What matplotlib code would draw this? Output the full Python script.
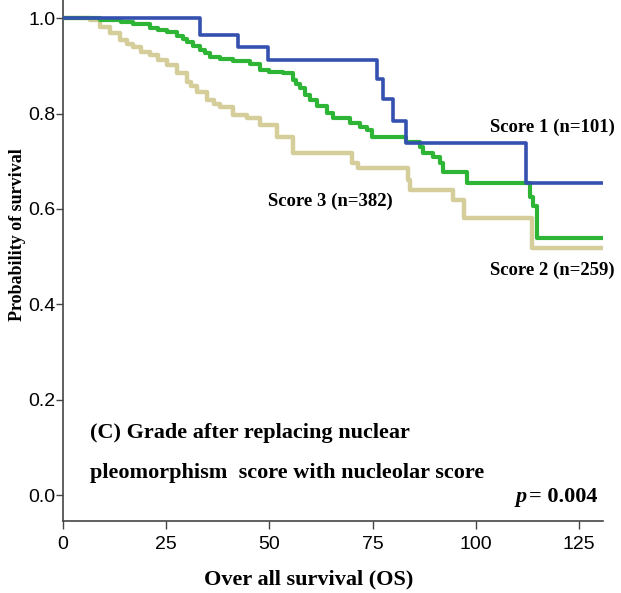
import matplotlib.pyplot as plt

# Kaplan-Meier step data (months, survival probability)
score1_t = [0, 33.2, 42.4, 49.7, 76.1, 77.5, 79.9, 83.1, 112.2, 130.8]
score1_s = [1.0, 0.964, 0.940, 0.913, 0.873, 0.830, 0.784, 0.738, 0.654, 0.654]

score2_t = [0, 9, 14, 17, 21, 23, 25.2, 27.6, 29, 30, 31.5, 33.2, 34.5, 35.6, 38,
            41.2, 45.3, 47.7, 50, 53.3, 55.7, 56.5, 57.4, 58.6, 59.8, 61.5, 64,
            65.4, 69.5, 72, 73.6, 74.9, 83.1, 86.5, 87.2, 89.6, 91.3, 92.1, 97.9,
            113.1, 113.8, 114.8, 130.8]
score2_s = [1.0, 0.996, 0.992, 0.988, 0.979, 0.975, 0.970, 0.963, 0.957, 0.950,
            0.942, 0.933, 0.926, 0.918, 0.915, 0.911, 0.904, 0.891, 0.888, 0.884,
            0.870, 0.862, 0.853, 0.838, 0.828, 0.815, 0.801, 0.790, 0.780, 0.772,
            0.765, 0.751, 0.740, 0.730, 0.717, 0.709, 0.696, 0.678, 0.654, 0.625,
            0.606, 0.539, 0.539]

score3_t = [0, 6.5, 9, 11.4, 13.8, 15.5, 17, 19, 21.1, 23, 25.2, 27.6, 30, 31,
            32.5, 34.9, 36.5, 38, 41.2, 44.6, 47.7, 51.8, 55.7, 70, 71.4, 83.5,
            84, 94.5, 97.2, 113.6, 130.8]
score3_s = [1.0, 0.996, 0.981, 0.969, 0.954, 0.945, 0.939, 0.930, 0.922, 0.912,
            0.901, 0.885, 0.866, 0.858, 0.845, 0.828, 0.820, 0.813, 0.797, 0.790,
            0.776, 0.751, 0.717, 0.696, 0.686, 0.661, 0.640, 0.618, 0.581, 0.518,
            0.518]

xticks = [0, 25, 50, 75, 100, 125]
yticks = [0.0, 0.2, 0.4, 0.6, 0.8, 1.0]

serif = ['Liberation Serif', 'DejaVu Serif']
sans = ['Liberation Sans', 'DejaVu Sans']

W, H = 621, 593


def fx(px):
    return px / W


def fy(py):
    return 1 - py / H


fig = plt.figure(figsize=(W / 100, H / 100), dpi=100)
ax = fig.add_axes([63 / W, 72 / H, 540 / W, 521 / H])

ax.step(score3_t, score3_s, where='post', color='#d5ce9b', lw=3.2, zorder=2)
ax.step(score2_t, score2_s, where='post', color='#2fb535', lw=3.0, zorder=3)
ax.step(score1_t, score1_s, where='post', color='#3551b0', lw=2.6, zorder=4)

ax.set_xlim(0, 130.8)
ax.set_ylim(-0.054, 1.038)
ax.set_xticks(xticks)
ax.set_xticklabels([str(t) for t in xticks], fontsize=14, family=sans)
ax.set_yticks(yticks)
ax.set_yticklabels(['%.1f' % t for t in yticks], fontsize=14, family=sans)
ax.tick_params(axis='both', direction='out', width=1, color='#444444')
ax.tick_params(axis='x', length=6, pad=5)
ax.tick_params(axis='y', length=5, pad=0.5)

for side in ['top', 'right']:
    ax.spines[side].set_visible(False)
for side in ['left', 'bottom']:
    ax.spines[side].set_color('#444444')
    ax.spines[side].set_linewidth(1.2)

# axis titles
fig.text(fx(309), fy(579), 'Over all survival (OS)', fontsize=16, fontweight='bold',
         family=serif, ha='center', va='center')
fig.text(fx(18), fy(235), 'Probability of survival', fontsize=13, fontweight='bold',
         family=serif, ha='center', va='center', rotation=90)

# group labels
fig.text(fx(615), fy(127), 'Score 1 (n=101)', fontsize=13.5, fontweight='bold',
         family=serif, ha='right', va='center')
fig.text(fx(393), fy(201), 'Score 3 (n=382)', fontsize=13.5, fontweight='bold',
         family=serif, ha='right', va='center')
fig.text(fx(615), fy(270), 'Score 2 (n=259)', fontsize=13.5, fontweight='bold',
         family=serif, ha='right', va='center')

fig.text(fx(90), fy(433), '(C) Grade after replacing nuclear', fontsize=16,
         fontweight='bold', family=serif, ha='left', va='center')
fig.text(fx(90), fy(473), 'pleomorphism  score with nucleolar score', fontsize=16,
         fontweight='bold', family=serif, ha='left', va='center')

# log-rank p value
fig.text(fx(597), fy(497), '= 0.004', fontsize=16, fontweight='bold',
         family=serif, ha='right', va='center')
fig.text(fx(527), fy(497), 'p', fontsize=16, fontweight='bold', fontstyle='italic',
         family=serif, ha='right', va='center')

fig.savefig('out.png', dpi=100)
